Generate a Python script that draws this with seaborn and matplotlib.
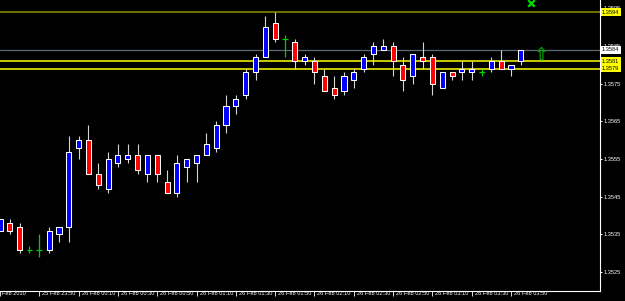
import numpy as np
import pandas as pd
import matplotlib
matplotlib.use("Agg")
import matplotlib.pyplot as plt
import matplotlib.transforms as mtransforms
import seaborn as sns

# ---- data (5-minute EURUSD candles, 25 Feb 23:30 -> 26 Feb 03:55) ----
opens = [1.3536, 1.3538, 1.3537, 1.3531, 1.3531, 1.3531, 1.3535, 1.3537, 1.3558, 1.3560,
         1.3551, 1.3547, 1.3554, 1.3555, 1.3556, 1.3551, 1.3556, 1.3549, 1.3546, 1.3553,
         1.3554, 1.3556, 1.3558, 1.3564, 1.3569, 1.3572, 1.3578, 1.3582, 1.3591, 1.3587,
         1.3586, 1.3581, 1.3581, 1.3577, 1.3574, 1.3573, 1.3576, 1.3579, 1.3583, 1.3584,
         1.3585, 1.3580, 1.3577, 1.3582, 1.3582, 1.3574, 1.3578, 1.3578, 1.3578, 1.3578,
         1.3579, 1.3581, 1.3579, 1.3581]
highs = [1.3539, 1.3539, 1.3538, 1.3532, 1.3535, 1.3537, 1.3537, 1.3561, 1.3561, 1.3564,
         1.3554, 1.3557, 1.3559, 1.3559, 1.3559, 1.3556, 1.3556, 1.3552, 1.3556, 1.3555,
         1.3556, 1.3562, 1.3565, 1.3572, 1.3572, 1.3579, 1.3583, 1.3593, 1.3594, 1.3588,
         1.3587, 1.3583, 1.3582, 1.3579, 1.3577, 1.3578, 1.3579, 1.3583, 1.3586, 1.3587,
         1.3586, 1.3582, 1.3583, 1.3586, 1.3583, 1.3578, 1.3578, 1.3581, 1.3581, 1.3579,
         1.3582, 1.3584, 1.3580, 1.3584]
lows = [1.3536, 1.3535, 1.3530, 1.3530, 1.3529, 1.3530, 1.3533, 1.3533, 1.3555, 1.3551,
        1.3547, 1.3546, 1.3553, 1.3554, 1.3551, 1.3549, 1.3549, 1.3546, 1.3545, 1.3549,
        1.3549, 1.3556, 1.3557, 1.3562, 1.3567, 1.3571, 1.3576, 1.3582, 1.3586, 1.3582,
        1.3579, 1.3580, 1.3575, 1.3573, 1.3571, 1.3572, 1.3574, 1.3578, 1.3580, 1.3584,
        1.3577, 1.3573, 1.3575, 1.3579, 1.3572, 1.3574, 1.3576, 1.3576, 1.3576, 1.3577,
        1.3578, 1.3579, 1.3577, 1.3580]
closes = [1.3539, 1.3536, 1.3531, 1.3531, 1.3531, 1.3536, 1.3537, 1.3557, 1.3560, 1.3551,
          1.3548, 1.3555, 1.3556, 1.3556, 1.3552, 1.3556, 1.3551, 1.3546, 1.3554, 1.3555,
          1.3556, 1.3559, 1.3564, 1.3569, 1.3571, 1.3578, 1.3582, 1.3590, 1.3587, 1.3587,
          1.3581, 1.3582, 1.3578, 1.3573, 1.3572, 1.3577, 1.3578, 1.3582, 1.3585, 1.3585,
          1.3581, 1.3576, 1.3583, 1.3581, 1.3575, 1.3578, 1.3577, 1.3579, 1.3579, 1.3578,
          1.3581, 1.3579, 1.3580, 1.3584]

tick_bars = [0, 4, 8, 12, 16, 20, 24, 28, 32, 36, 40, 44, 48, 52]
tick_labels = ["25 Feb 2010", "25 Feb 23:50", "26 Feb 00:10", "26 Feb 00:30", "26 Feb 00:50",
               "26 Feb 01:10", "26 Feb 01:30", "26 Feb 01:50", "26 Feb 02:10", "26 Feb 02:30",
               "26 Feb 02:50", "26 Feb 03:10", "26 Feb 03:30", "26 Feb 03:50"]
price_ticks = [1.3525, 1.3535, 1.3545, 1.3555, 1.3565, 1.3575, 1.3585, 1.3595]

level_values = [1.3594, 1.3584, 1.3581, 1.3579]
level_names = ["1.3594", "1.3584", "1.3581", "1.3579"]
level_colors = ["#6e6e00", "#5c6878", "#ffff00", "#ffff00"]
level_widths = [1.5, 0.9, 1.1, 1.1]
level_box_colors = ["#ffff00", "#ffffff", "#ffff00", "#ffff00"]

cross_bar = [54]
cross_price = [1.35963]
arrow_bar = [55]
arrow_price = [1.35832]

# ---- style ----
sns.set_style("dark", {"axes.facecolor": "black", "figure.facecolor": "black",
                       "axes.edgecolor": "white", "grid.color": "black"})
plt.rcParams['font.family'] = ['Liberation Sans', 'DejaVu Sans']

df = pd.DataFrame({"open": opens, "high": highs, "low": lows, "close": closes})
df["bar"] = np.arange(len(df))

fig = plt.figure(figsize=(6.25, 3.01), dpi=100, facecolor="black")
ax = fig.add_axes([0.0, 10 / 301, 599.5 / 625, 291 / 301])
ax.set_facecolor("black")

doji = df[df["open"] == df["close"]]
body = df[df["open"] != df["close"]]

# wicks
ax.vlines(body["bar"], body["low"], body["high"], colors="#d4d4d4", linewidth=0.8, zorder=2)
ax.vlines(doji["bar"], doji["low"], doji["high"], colors="#00cc00", linewidth=0.9, zorder=2)
ax.hlines(doji["close"], doji["bar"] - 0.3, doji["bar"] + 0.3, colors="#00cc00",
          linewidth=0.9, zorder=2)

# bodies
colors = np.where(body["close"] > body["open"], "#0000ff", "#ff0000")
bottoms = np.minimum(body["open"], body["close"])
heights = np.abs(body["close"] - body["open"])
ax.bar(body["bar"], heights, bottom=bottoms, width=0.52, color=colors,
       edgecolor="white", linewidth=0.75, zorder=3)

# horizontal levels
for v, c, w in zip(level_values, level_colors, level_widths):
    ax.axhline(v, color=c, linewidth=w, zorder=1)

# markers
sns.scatterplot(x=cross_bar, y=cross_price, marker="x", s=22, color="#00e000",
                linewidth=1.6, ax=ax, zorder=5)
arrow_verts = [(0, 1), (0.55, 0.35), (0.22, 0.35), (0.22, -1), (-0.22, -1),
               (-0.22, 0.35), (-0.55, 0.35), (0, 1)]
ax.plot(arrow_bar, arrow_price, linestyle="none", marker=arrow_verts, markersize=8.8,
        markerfacecolor="none", markeredgecolor="#00a000", markeredgewidth=0.9, zorder=5)

ax.set_xlim(0.11, 61.0)
ax.set_ylim(1.35200, 1.359722)
ax.grid(False)

for s in ["left", "top"]:
    ax.spines[s].set_visible(False)
for s in ["right", "bottom"]:
    ax.spines[s].set_color("white")
    ax.spines[s].set_linewidth(0.8)

ax.yaxis.tick_right()
ax.set_yticks(price_ticks)
ax.set_yticklabels([f"{p:.4f}" for p in price_ticks])
ax.tick_params(axis="y", which="both", right=True, left=False, length=1.5, width=0.7,
               color="white", labelcolor="white", labelsize=4.1, pad=1.5)

ax.set_xticks(tick_bars)
ax.set_xticklabels(tick_labels)
ax.tick_params(axis="x", which="both", bottom=True, length=3.5, width=0.6, color="white",
               labelcolor="white", labelsize=4.1, pad=-3.2)
for i, lab in enumerate(ax.get_xticklabels()):
    lab.set_ha("left")
    dx = -5.7 / 100 if i == 0 else 3 / 100
    lab.set_transform(lab.get_transform() + mtransforms.ScaledTranslation(dx, 0, fig.dpi_scale_trans))

ax.set_xlabel("")
ax.set_ylabel("")

# price boxes on the right axis
trans = mtransforms.blended_transform_factory(ax.transAxes, ax.transData)
for v, name, bc in zip(level_values, level_names, level_box_colors):
    t = ax.text(1.0, v, name, transform=trans, ha="left", va="center", fontsize=4.1,
                color="black", clip_on=False, zorder=10,
                bbox=dict(boxstyle="square,pad=0.22", fc=bc, ec="none"))
    t.set_transform(trans + mtransforms.ScaledTranslation(2.5 / 100, 0, fig.dpi_scale_trans))

fig.savefig("out.png", dpi=100, facecolor="black")
